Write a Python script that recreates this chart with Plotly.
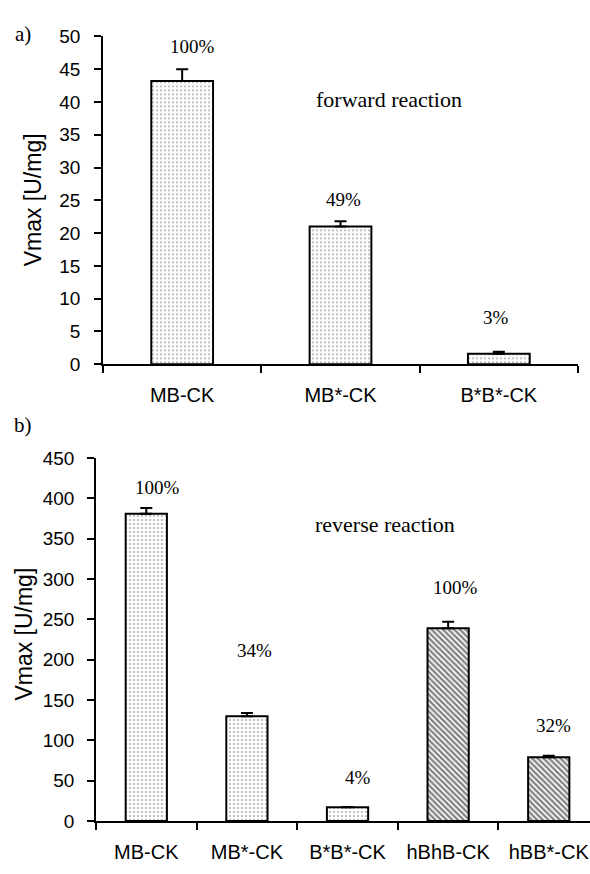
import plotly.graph_objects as go

# ---- data ----
fwd_categories = ["MB-CK", "MB*-CK", "B*B*-CK"]
fwd_values = [43.2, 21.0, 1.6]
fwd_errors = [1.8, 0.8, 0.3]
fwd_percent = ["100%", "49%", "3%"]

rev_categories = ["MB-CK", "MB*-CK", "B*B*-CK", "hBhB-CK", "hBB*-CK"]
rev_values = [381, 130, 17, 239, 79]
rev_errors = [7, 4, 0.5, 8, 2]
rev_percent = ["100%", "34%", "4%", "100%", "32%"]

# ---- styles / layout positions ----
W, H = 590, 874
sans = "Liberation Sans, Arial, sans-serif"
serif = "Liberation Serif, Times New Roman, serif"

fwd_label_y = [48.4, 25.1, 7.1]
fwd_label_dx = [10, 3, -3]
rev_label_y = [414, 211, 53.4, 289, 119]
rev_label_dx = [11, 8, 10, 7, 5]

dot = dict(shape=".", fgcolor="#666666", bgcolor="white", size=4, solidity=0.24)
rev_shapes = [".", ".", ".", "\\", "\\"]

fig = go.Figure()

fig.add_trace(go.Bar(
    x=fwd_categories, y=fwd_values, width=0.39,
    marker=dict(color="white", line=dict(color="black", width=2), pattern=dot),
    error_y=dict(type="data", symmetric=False, array=fwd_errors,
                 arrayminus=[0] * len(fwd_errors), color="black", thickness=2, width=6),
    xaxis="x", yaxis="y", showlegend=False,
))

fig.add_trace(go.Bar(
    x=rev_categories, y=rev_values, width=0.41,
    marker=dict(color="white", line=dict(color="black", width=2),
                pattern=dict(shape=rev_shapes,
                             fgcolor=["#666666", "#666666", "#666666", "black", "black"],
                             bgcolor="white",
                             size=[4, 4, 4, 4, 4],
                             solidity=[0.24, 0.24, 0.24, 0.55, 0.55])),
    error_y=dict(type="data", symmetric=False, array=rev_errors,
                 arrayminus=[0] * len(rev_errors), color="black", thickness=2, width=6),
    xaxis="x2", yaxis="y2", showlegend=False,
))

ann = []
for c, t, yy, dx in zip(fwd_categories, fwd_percent, fwd_label_y, fwd_label_dx):
    ann.append(dict(x=c, y=yy, xref="x", yref="y", text=t, showarrow=False,
                    xanchor="center", yanchor="middle",
                    xshift=dx, font=dict(family=serif, size=19, color="black")))
for c, t, yy, dx in zip(rev_categories, rev_percent, rev_label_y, rev_label_dx):
    ann.append(dict(x=c, y=yy, xref="x2", yref="y2", text=t, showarrow=False,
                    xanchor="center", yanchor="middle",
                    xshift=dx, font=dict(family=serif, size=19, color="black")))

def paper_text(px, py, text, family, size, angle=0):
    return dict(x=px / W, y=1 - py / H, xref="paper", yref="paper", text=text,
                textangle=angle, showarrow=False, xanchor="center", yanchor="middle",
                font=dict(family=family, size=size, color="black"))

ann += [
    paper_text(389, 92, "forward reaction", serif, 22),
    paper_text(385, 527, "reverse reaction", serif, 22),
    paper_text(23, 25, "a)", serif, 21),
    paper_text(23, 425, "b)", serif, 21),
    paper_text(33, 195, "Vmax [U/mg]", sans, 23, -90),
    paper_text(24, 640, "Vmax [U/mg]", sans, 23, -90),
]

axis_common = dict(showline=True, linecolor="black", linewidth=1.5, showgrid=False,
                   zeroline=False, ticks="outside", tickcolor="black", ticklen=7,
                   tickwidth=1.5, fixedrange=True)

fig.update_layout(
    width=W, height=H,
    margin=dict(l=0, r=0, t=0, b=0),
    paper_bgcolor="white", plot_bgcolor="white",
    annotations=ann,
    xaxis=dict(domain=[103 / W, 578 / W], anchor="y", type="category",
               range=[-0.5, 2.5], tickson="boundaries", ticklabelstandoff=12,
               tickfont=dict(family=sans, size=20, color="black"), **axis_common),
    yaxis=dict(domain=[1 - 363 / H, 1 - 27 / H], anchor="x", range=[0, 50], dtick=5,
               ticklabelstandoff=10,
               tickfont=dict(family=sans, size=19, color="black"), **axis_common),
    xaxis2=dict(domain=[96 / W, 1.0], anchor="y2", type="category",
                range=[-0.5, 4.41], tickson="boundaries", ticklabelstandoff=12,
                tickfont=dict(family=sans, size=20, color="black"), **axis_common),
    yaxis2=dict(domain=[1 - 831 / H, 1 - 459 / H], anchor="x2", range=[0, 450], dtick=50,
                ticklabelstandoff=9,
                tickfont=dict(family=sans, size=19, color="black"), **axis_common),
)

fig.write_html(
    "out.html",
    config={"displayModeBar": False},
    post_script="document.body.style.margin='0';document.body.style.overflow='hidden';",
)
